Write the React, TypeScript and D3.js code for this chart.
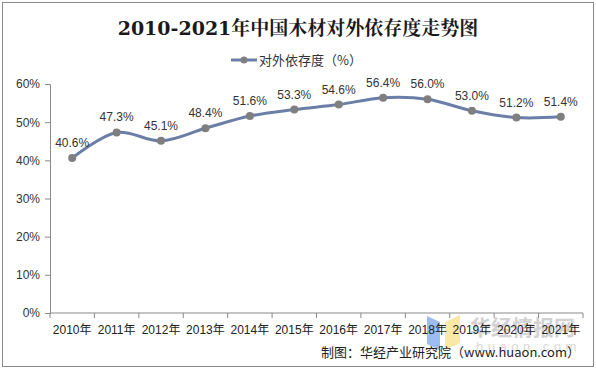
import { useEffect, useRef } from 'react';
import * as d3 from 'd3';

const years = ['2010年', '2011年', '2012年', '2013年', '2014年', '2015年', '2016年', '2017年', '2018年', '2019年', '2020年', '2021年'];
const dependence = [40.6, 47.3, 45.1, 48.4, 51.6, 53.3, 54.6, 56.4, 56.0, 53.0, 51.2, 51.4];
const yTicks = [0, 10, 20, 30, 40, 50, 60];

export default function App() {
    const svgRef = useRef<SVGSVGElement | null>(null);

    useEffect(() => {
        if (!svgRef.current) return;
        const svg = d3.select(svgRef.current);
        svg.selectAll('*').remove();

        const width = 596;
        const height = 369;
        const margin = { top: 84, right: 13, bottom: 56, left: 50 };
        const font = '"Liberation Sans", Arial, "Noto Sans CJK SC", sans-serif';

        svg.attr('width', width).attr('height', height);

        // outer frame
        svg.append('rect')
            .attr('x', 2.5).attr('y', 2.5)
            .attr('width', width - 5).attr('height', height - 5)
            .attr('fill', 'white').attr('stroke', '#898989');

        // watermark (behind everything else)
        const wm = svg.append('g');
        wm.append('path').attr('d', 'M427,316 L440,322 L440,350 L427,344 Z').attr('fill', '#7aa6f0').attr('opacity', 0.75);
        wm.append('path').attr('d', 'M445,322 L460,315 L460,343 L445,350 Z').attr('fill', '#f8e08a').attr('opacity', 0.75);
        wm.append('text').attr('x', 470).attr('y', 335)
            .attr('font-family', '"Noto Sans CJK SC", sans-serif').attr('font-weight', 'bold')
            .attr('font-size', 21).attr('fill', '#c8c8c8').attr('opacity', 0.8)
            .text('华经情报网');
        wm.append('text').attr('x', 476).attr('y', 351)
            .attr('font-family', font).attr('font-size', 13).attr('letter-spacing', 4.5)
            .attr('fill', '#d0d0d0').attr('opacity', 0.8)
            .text('huaon.com');

        const x = d3.scaleBand<string>()
            .domain(years)
            .range([margin.left, width - margin.right]);
        const y = d3.scaleLinear()
            .domain([0, 60])
            .range([height - margin.bottom, margin.top]);

        // title
        svg.append('text')
            .attr('x', width / 2).attr('y', 35)
            .attr('text-anchor', 'middle')
            .attr('font-family', '"DejaVu Serif", "Noto Serif CJK SC", "Noto Sans CJK SC", serif')
            .attr('font-weight', 'bold')
            .attr('font-size', 19)
            .attr('fill', '#1a1a1a')
            .text('2010-2021年中国木材对外依存度走势图');

        // legend
        const lg = svg.append('g').attr('transform', 'translate(231, 60)');
        lg.append('line').attr('x1', 0).attr('x2', 26).attr('y1', 0).attr('y2', 0)
            .attr('stroke', '#6a7ea7').attr('stroke-width', 3);
        lg.append('circle').attr('cx', 13).attr('cy', 0).attr('r', 3.5).attr('fill', '#7f7f7f');
        lg.append('text').attr('x', 28).attr('y', 5)
            .attr('font-family', '"Noto Sans CJK SC", sans-serif')
            .attr('font-size', 13).attr('fill', '#333')
            .text('对外依存度（%）');

        // y axis
        const yAxis = svg.append('g')
            .attr('transform', `translate(${margin.left},0)`)
            .call(d3.axisLeft(y).tickValues(yTicks).tickSize(5).tickFormat(d => `${d}%`));
        yAxis.select('.domain').attr('stroke', '#898989');
        yAxis.selectAll('.tick line').attr('stroke', '#898989');
        yAxis.selectAll('.tick text')
            .attr('font-family', font).attr('font-size', 12).attr('fill', '#333').attr('dx', -2);

        // x axis
        const baseY = y(0);
        const xg = svg.append('g');
        xg.append('line')
            .attr('x1', margin.left).attr('x2', width - margin.right)
            .attr('y1', baseY).attr('y2', baseY)
            .attr('stroke', '#898989');
        const bounds = years.map(d => x(d)!).concat([width - margin.right]);
        xg.selectAll('line.tick').data(bounds).enter().append('line')
            .attr('class', 'tick')
            .attr('x1', d => d).attr('x2', d => d)
            .attr('y1', baseY).attr('y2', baseY + 5)
            .attr('stroke', '#898989');
        xg.selectAll('text').data(years).enter().append('text')
            .attr('x', d => x(d)! + x.bandwidth() / 2)
            .attr('y', baseY + 21)
            .attr('text-anchor', 'middle')
            .attr('font-family', font).attr('font-size', 12).attr('fill', '#222')
            .text(d => d);

        // line
        const pts: [number, number][] = dependence.map((v, i) => [x(years[i])! + x.bandwidth() / 2, y(v)]);
        const line = d3.line().curve(d3.curveCatmullRom.alpha(0.5));
        svg.append('path')
            .attr('d', line(pts))
            .attr('fill', 'none')
            .attr('stroke', '#6a7ea7')
            .attr('stroke-width', 3);

        svg.selectAll('circle.pt').data(pts).enter().append('circle')
            .attr('class', 'pt')
            .attr('cx', d => d[0]).attr('cy', d => d[1])
            .attr('r', 4).attr('fill', '#7f7f7f');

        svg.selectAll('text.lbl').data(dependence).enter().append('text')
            .attr('class', 'lbl')
            .attr('x', (d, i) => pts[i][0])
            .attr('y', (d, i) => pts[i][1] - 11)
            .attr('text-anchor', 'middle')
            .attr('font-family', font).attr('font-size', 12).attr('fill', '#333')
            .text(d => `${d.toFixed(1)}%`);

        // source
        svg.append('text')
            .attr('x', 580).attr('y', 357)
            .attr('text-anchor', 'end')
            .attr('font-family', '"Noto Sans CJK SC", sans-serif')
            .attr('font-size', 13).attr('fill', '#222')
            .text('制图：华经产业研究院（www.huaon.com）');
    }, []);

    return <svg ref={svgRef} style={{ display: 'block', position: 'absolute', left: 0, top: 0 }}></svg>;
}
